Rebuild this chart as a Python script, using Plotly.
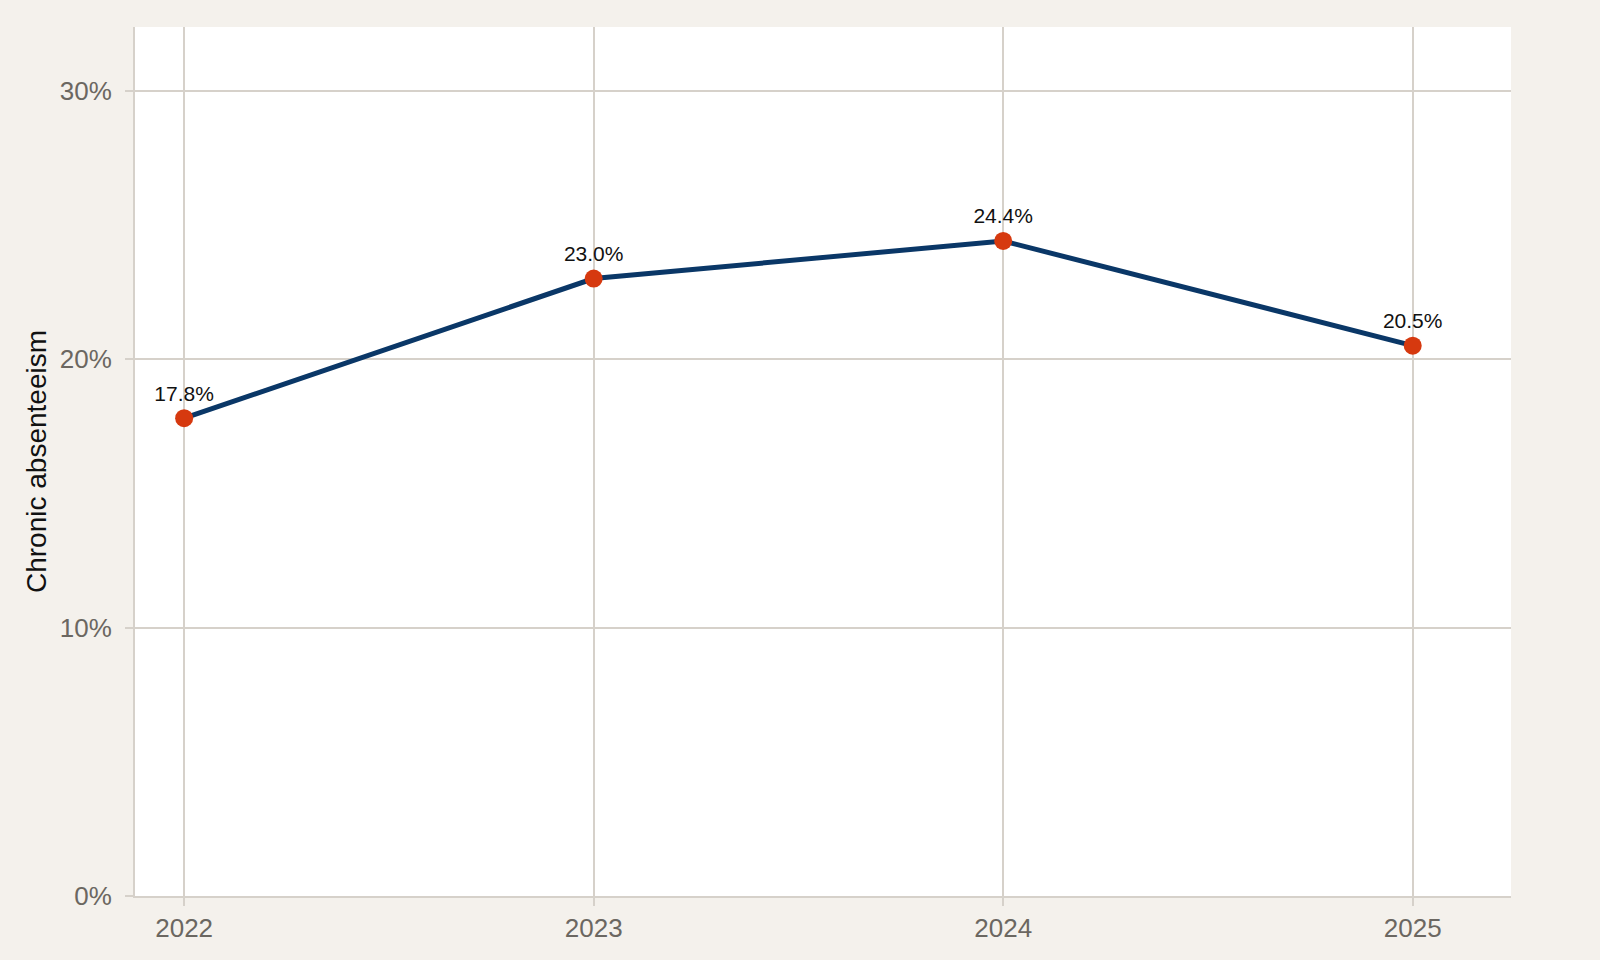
import plotly.graph_objects as go

# === DATOS ===
years = [2022, 2023, 2024, 2025]
chronic_absent = [17.8, 23.0, 24.4, 20.5]
labels = [f"{v:.1f}%" for v in chronic_absent]
y_ticks = [0, 10, 20, 30]
y_tick_text = ["0%", "10%", "20%", "30%"]

GRID = "#d6d1ca"
BG = "#f4f1ec"

fig = go.Figure()

fig.add_trace(go.Scatter(
    x=years,
    y=chronic_absent,
    mode="lines+markers+text",
    text=labels,
    textposition="top center",
    textfont=dict(size=21, color="#111111", family="Liberation Sans, Arial, sans-serif"),
    line=dict(color="#0a3767", width=5),
    marker=dict(color="#d6390f", size=18),
    showlegend=False,
    cliponaxis=False,
))

fig.update_layout(
    width=1600,
    height=960,
    paper_bgcolor=BG,
    plot_bgcolor="white",
    margin=dict(l=135, r=89, t=27, b=64),
    font=dict(family="Liberation Sans, Arial, sans-serif"),
    xaxis=dict(
        range=[2021.88, 2025.24],
        tickmode="array",
        tickvals=years,
        ticktext=[str(y) for y in years],
        showgrid=True,
        gridcolor=GRID,
        gridwidth=1.5,
        showline=True,
        linecolor=GRID,
        linewidth=2,
        ticks="outside",
        ticklen=8,
        tickcolor=GRID,
        tickwidth=1.5,
        tickfont=dict(size=26, color="#6b6761"),
        zeroline=False,
    ),
    yaxis=dict(
        range=[0, 32.37],
        tickmode="array",
        tickvals=y_ticks,
        ticktext=y_tick_text,
        showgrid=True,
        gridcolor=GRID,
        gridwidth=1.5,
        showline=True,
        linecolor=GRID,
        linewidth=2,
        ticks="outside",
        ticklen=8,
        tickcolor=GRID,
        tickwidth=1.5,
        ticklabelstandoff=8,
        tickfont=dict(size=26, color="#6b6761"),
        zeroline=False,
        title=dict(text="Chronic absenteeism", font=dict(size=28, color="#111111"), standoff=5),
    ),
)

# quitar el margen del body para que el fondo llene la ventana
fig.write_html(
    "out.html",
    config={"displayModeBar": False},
    post_script="document.body.style.margin='0';document.body.style.background='" + BG + "';",
)
